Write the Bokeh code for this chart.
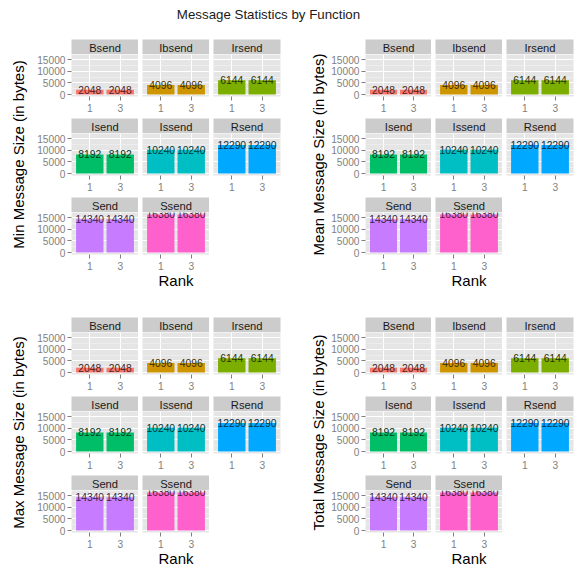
from bokeh.plotting import figure
from bokeh.layouts import row, column
from bokeh.models import ColumnDataSource, FactorRange, Range1d, FixedTicker, Label, Spacer
from bokeh.core.properties import value
from bokeh.embed import file_html
from bokeh.resources import INLINE

# ---------------- data ----------------
functions = ["Bsend", "Ibsend", "Irsend", "Isend", "Issend", "Rsend", "Send", "Ssend"]
ranks = ["1", "3"]
fill_colors = ["#F8766D", "#CD9600", "#7CAE00", "#00BE67",
               "#00BFC4", "#00A9FF", "#C77CFF", "#FF61CC"]

min_size_rank1 = [2048, 4096, 6144, 8192, 10240, 12290, 14340, 16380]
min_size_rank3 = [2048, 4096, 6144, 8192, 10240, 12290, 14340, 16380]
mean_size_rank1 = [2048, 4096, 6144, 8192, 10240, 12290, 14340, 16380]
mean_size_rank3 = [2048, 4096, 6144, 8192, 10240, 12290, 14340, 16380]
max_size_rank1 = [2048, 4096, 6144, 8192, 10240, 12290, 14340, 16380]
max_size_rank3 = [2048, 4096, 6144, 8192, 10240, 12290, 14340, 16380]
total_size_rank1 = [2048, 4096, 6144, 8192, 10240, 12290, 14340, 16380]
total_size_rank3 = [2048, 4096, 6144, 8192, 10240, 12290, 14340, 16380]

y_ticks = [0, 5000, 10000, 15000]
y_minor_ticks = [2500, 7500, 12500]

title_text = "Message Statistics by Function"
x_title = "Rank"
quadrants = [
    ("Min Message Size (in bytes)", min_size_rank1, min_size_rank3),
    ("Mean Message Size (in bytes)", mean_size_rank1, mean_size_rank3),
    ("Max Message Size (in bytes)", max_size_rank1, max_size_rank3),
    ("Total Message Size (in bytes)", total_size_rank1, total_size_rank3),
]

# ---------------- style ----------------
FONT = "Liberation Sans"
FW, FH, SH = 67, 42, 15          # panel frame width/height, strip height
GAP = 4
ROW_BOTTOM = 22
LAST_BOTTOM = 19
RANK_H = 16
QH = 2 * (SH + FH + ROW_BOTTOM) + (SH + FH + LAST_BOTTOM) + RANK_H
TOTAL_W = 579
TITLE_H = 39

all_vals = [v for q in quadrants for arr in q[1:] for v in arr]
ymax = max(all_vals)
ylo, yhi = -0.05 * ymax, 1.05 * ymax


def darken(hx, f=0.3):
    r, g, b = int(hx[1:3], 16), int(hx[3:5], 16), int(hx[5:7], 16)
    return "#%02x%02x%02x" % (int(r * f), int(g * f), int(b * f))


def bare_fig(w, h, left=0, right=0, xr=(0, 1), yr=(0, 1)):
    f = figure(width=w, height=h, x_range=Range1d(*xr), y_range=Range1d(*yr),
               x_axis_location=None, y_axis_location=None, title_location=None,
               min_border_left=left, min_border_right=right, min_border_top=0,
               min_border_bottom=0, output_backend="svg", toolbar_location=None, tools="")
    f.grid.visible = False
    f.outline_line_color = None
    return f


def make_strip(name, left, right):
    s = bare_fig(left + FW + right, SH, left, right)
    s.background_fill_color = "#cccccc"
    s.add_layout(Label(x=0.5, y=0.45, text=name, text_align="center", text_baseline="middle",
                       text_font=FONT, text_font_size="11.2px", text_color="#1a1a1a"))
    return s


def make_panel(v1, v3, color, left, right, bottom, show_y):
    p = figure(width=left + FW + right, height=FH + bottom,
               x_range=FactorRange(*ranks, range_padding=0.1, range_padding_units="absolute"),
               y_range=Range1d(ylo, yhi), title_location=None,
               min_border_left=left, min_border_right=right, min_border_top=0,
               min_border_bottom=bottom,
               output_backend="svg", toolbar_location=None, tools="")
    src = ColumnDataSource(dict(rank=ranks, val=[v1, v3], label=[str(v1), str(v3)]))
    p.vbar(x="rank", top="val", bottom=0, width=0.9, source=src,
           fill_color=color, line_color=None)
    p.text(x="rank", y="val", text="label", source=src, text_align="center",
           text_baseline="middle", text_font=value(FONT), text_font_size="10.3px",
           text_color=darken(color))
    p.background_fill_color = "#e5e5e5"
    p.outline_line_color = None
    tk = FixedTicker(ticks=y_ticks, minor_ticks=y_minor_ticks)
    p.yaxis.ticker = tk
    p.ygrid.ticker = tk
    p.ygrid.grid_line_color = "white"
    p.ygrid.grid_line_width = 1
    p.ygrid.minor_grid_line_color = "#f2f2f2"
    p.ygrid.minor_grid_line_width = 0.6
    p.xgrid.grid_line_color = "white"
    p.xgrid.grid_line_width = 1
    for ax in (p.xaxis, p.yaxis):
        ax.axis_line_color = None
        ax.major_tick_line_color = "#7f7f7f"
        ax.major_tick_out = 4
        ax.major_tick_in = 0
        ax.minor_tick_line_color = None
        ax.major_label_text_color = "#7f7f7f"
        ax.major_label_text_font = FONT
        ax.major_label_text_font_size = "10.2px"
    p.xaxis.major_label_standoff = 3
    p.yaxis.major_label_standoff = 2
    if not show_y:
        p.yaxis.visible = False
    return p


def make_quadrant(ylab, vals1, vals3, ylab_w, left0, right_pad, ylab_x):
    grid_rows = []
    for r in range(3):
        cells = []
        for c in range(3):
            i = r * 3 + c
            if i >= len(functions):
                break
            left = left0 if c == 0 else GAP
            right = right_pad if c == 2 else 0
            bottom = LAST_BOTTOM if r == 2 else ROW_BOTTOM
            cells.append(column(make_strip(functions[i], left, right),
                                make_panel(vals1[i], vals3[i], fill_colors[i],
                                           left, right, bottom, c == 0)))
        grid_rows.append(row(*cells))
    rank_fig = bare_fig(left0 + 3 * FW + 2 * GAP, RANK_H, left0, 0, (0, 1), (0, RANK_H))
    rank_fig.add_layout(Label(x=0.5, y=RANK_H - 6.5, text=x_title, text_align="center",
                              text_baseline="middle", text_font=FONT,
                              text_font_size="15px", text_color="#000000"))
    ylab_fig = bare_fig(ylab_w, QH, 0, 0, (0, ylab_w), (0, QH))
    ylab_fig.add_layout(Label(x=ylab_x, y=QH - 115, text=ylab, angle=1.5707963,
                              text_align="center", text_baseline="middle", text_font=FONT,
                              text_font_size="15px", text_color="#000000"))
    return row(ylab_fig, column(*grid_rows, rank_fig))


title_fig = bare_fig(TOTAL_W, TITLE_H, 0, 0, (0, TOTAL_W), (0, TITLE_H))
title_fig.add_layout(Label(x=268, y=TITLE_H - 14, text=title_text, text_align="center",
                           text_baseline="middle", text_font=FONT, text_font_size="13.3px",
                           text_color="#1a1a1a"))

q = quadrants
top = row(make_quadrant(q[0][0], q[0][1], q[0][2], 34, 37, 10, 18.3),
          make_quadrant(q[1][0], q[1][1], q[1][2], 38, 36, 6, 28.3))
bottom = row(make_quadrant(q[2][0], q[2][1], q[2][2], 34, 37, 10, 18.3),
             make_quadrant(q[3][0], q[3][1], q[3][2], 38, 36, 6, 28.3))

root = column(title_fig, top, Spacer(width=TOTAL_W, height=317 - TITLE_H - QH), bottom)

open("out.html", "w").write(file_html(root, INLINE))
